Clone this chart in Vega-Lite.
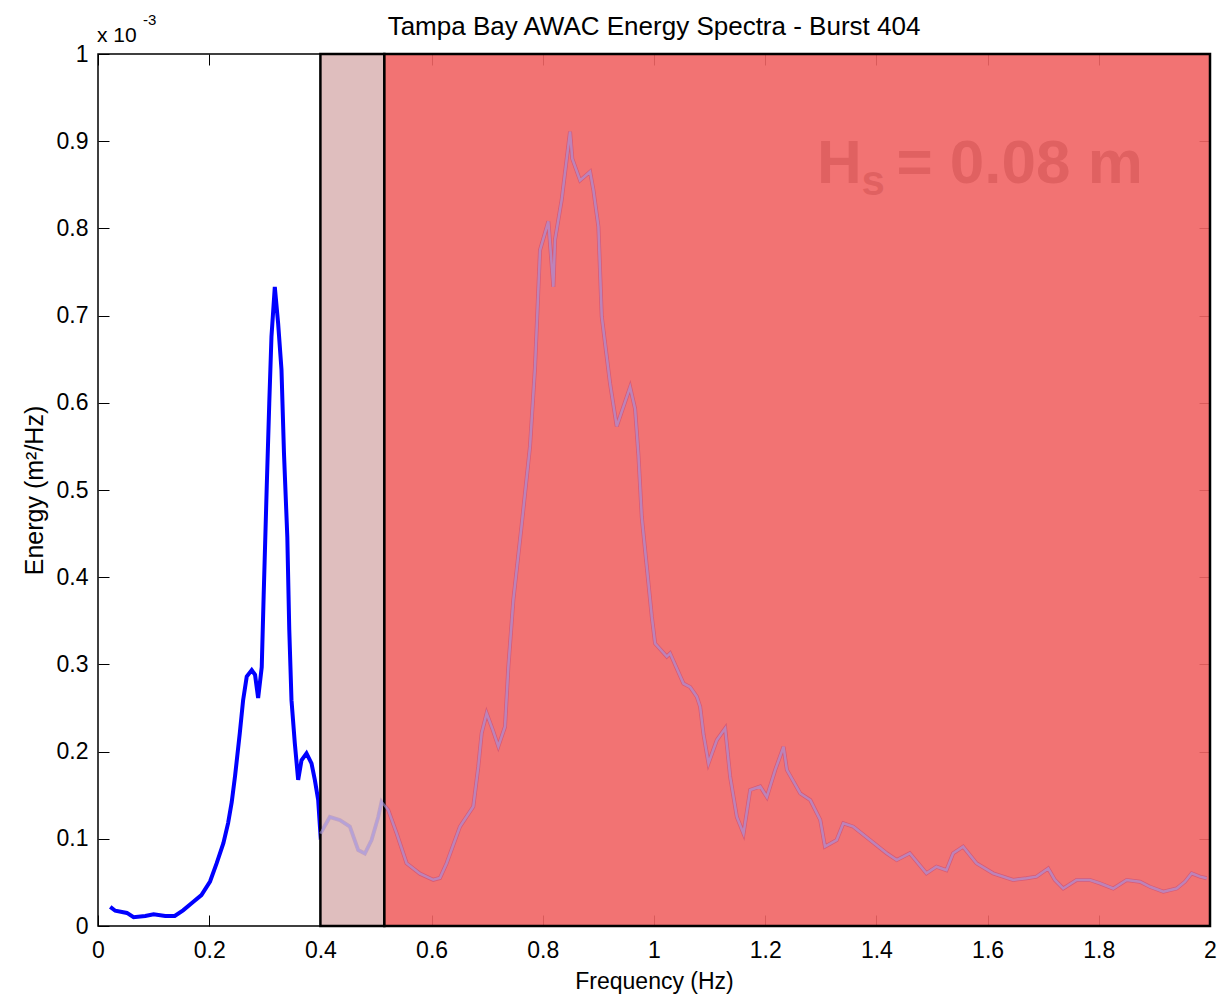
{
  "$schema": "https://vega.github.io/schema/vega-lite/v6.json",
  "width": 1112,
  "height": 872,
  "autosize": {"type": "none"},
  "padding": {"left": 98, "top": 54, "right": 9, "bottom": 70},
  "background": "white",
  "config": {
    "font": "Liberation Sans",
    "view": {"stroke": "black", "strokeWidth": 1.5},
    "axis": {"grid": false}
  },
  "title": {
    "text": "Tampa Bay AWAC Energy Spectra - Burst 404",
    "fontSize": 26,
    "fontWeight": "normal",
    "color": "black",
    "anchor": "middle",
    "frame": "group",
    "baseline": "bottom",
    "offset": -53
  },
  "datasets": {
    "spectrum": [
      {"freq": 0.022, "energy": 0.022},
      {"freq": 0.031, "energy": 0.0175},
      {"freq": 0.052, "energy": 0.015},
      {"freq": 0.064, "energy": 0.010},
      {"freq": 0.085, "energy": 0.0115},
      {"freq": 0.100, "energy": 0.0134},
      {"freq": 0.121, "energy": 0.0115},
      {"freq": 0.138, "energy": 0.0115},
      {"freq": 0.153, "energy": 0.018},
      {"freq": 0.171, "energy": 0.0275},
      {"freq": 0.186, "energy": 0.0355},
      {"freq": 0.2015, "energy": 0.051},
      {"freq": 0.2135, "energy": 0.072},
      {"freq": 0.2255, "energy": 0.095},
      {"freq": 0.234, "energy": 0.118},
      {"freq": 0.2405, "energy": 0.142},
      {"freq": 0.2465, "energy": 0.172},
      {"freq": 0.255, "energy": 0.221},
      {"freq": 0.261, "energy": 0.259},
      {"freq": 0.2675, "energy": 0.286},
      {"freq": 0.2765, "energy": 0.2935},
      {"freq": 0.2825, "energy": 0.288},
      {"freq": 0.288, "energy": 0.2615},
      {"freq": 0.2945, "energy": 0.297},
      {"freq": 0.298, "energy": 0.38},
      {"freq": 0.3035, "energy": 0.504},
      {"freq": 0.308, "energy": 0.599},
      {"freq": 0.312, "energy": 0.676},
      {"freq": 0.318, "energy": 0.733},
      {"freq": 0.324, "energy": 0.691},
      {"freq": 0.330, "energy": 0.638},
      {"freq": 0.3345, "energy": 0.542},
      {"freq": 0.3405, "energy": 0.446},
      {"freq": 0.344, "energy": 0.34},
      {"freq": 0.348, "energy": 0.259},
      {"freq": 0.354, "energy": 0.2095},
      {"freq": 0.360, "energy": 0.1675},
      {"freq": 0.366, "energy": 0.190},
      {"freq": 0.375, "energy": 0.198},
      {"freq": 0.384, "energy": 0.1865},
      {"freq": 0.390, "energy": 0.1675},
      {"freq": 0.396, "energy": 0.1445},
      {"freq": 0.400, "energy": 0.106},
      {"freq": 0.417, "energy": 0.125},
      {"freq": 0.435, "energy": 0.1215},
      {"freq": 0.453, "energy": 0.114},
      {"freq": 0.468, "energy": 0.087},
      {"freq": 0.480, "energy": 0.083},
      {"freq": 0.492, "energy": 0.0985},
      {"freq": 0.504, "energy": 0.125},
      {"freq": 0.510, "energy": 0.1425},
      {"freq": 0.522, "energy": 0.133},
      {"freq": 0.537, "energy": 0.1065},
      {"freq": 0.555, "energy": 0.072},
      {"freq": 0.579, "energy": 0.060},
      {"freq": 0.603, "energy": 0.053},
      {"freq": 0.615, "energy": 0.055},
      {"freq": 0.627, "energy": 0.072},
      {"freq": 0.651, "energy": 0.114},
      {"freq": 0.675, "energy": 0.137},
      {"freq": 0.684, "energy": 0.183},
      {"freq": 0.690, "energy": 0.221},
      {"freq": 0.699, "energy": 0.244},
      {"freq": 0.710, "energy": 0.225},
      {"freq": 0.720, "energy": 0.206},
      {"freq": 0.732, "energy": 0.2285},
      {"freq": 0.738, "energy": 0.297},
      {"freq": 0.747, "energy": 0.374},
      {"freq": 0.762, "energy": 0.46},
      {"freq": 0.777, "energy": 0.55},
      {"freq": 0.786, "energy": 0.641},
      {"freq": 0.795, "energy": 0.775},
      {"freq": 0.810, "energy": 0.808},
      {"freq": 0.819, "energy": 0.733},
      {"freq": 0.822, "energy": 0.787},
      {"freq": 0.834, "energy": 0.833},
      {"freq": 0.849, "energy": 0.911},
      {"freq": 0.853, "energy": 0.88},
      {"freq": 0.867, "energy": 0.855},
      {"freq": 0.885, "energy": 0.865},
      {"freq": 0.891, "energy": 0.844},
      {"freq": 0.900, "energy": 0.802},
      {"freq": 0.906, "energy": 0.699},
      {"freq": 0.921, "energy": 0.622},
      {"freq": 0.933, "energy": 0.573},
      {"freq": 0.957, "energy": 0.618},
      {"freq": 0.966, "energy": 0.593},
      {"freq": 0.972, "energy": 0.54},
      {"freq": 0.978, "energy": 0.469},
      {"freq": 0.987, "energy": 0.412},
      {"freq": 0.996, "energy": 0.355},
      {"freq": 1.002, "energy": 0.324},
      {"freq": 1.023, "energy": 0.309},
      {"freq": 1.029, "energy": 0.3127},
      {"freq": 1.053, "energy": 0.278},
      {"freq": 1.065, "energy": 0.274},
      {"freq": 1.077, "energy": 0.263},
      {"freq": 1.083, "energy": 0.2515},
      {"freq": 1.089, "energy": 0.22},
      {"freq": 1.098, "energy": 0.1866},
      {"freq": 1.113, "energy": 0.2133},
      {"freq": 1.128, "energy": 0.2267},
      {"freq": 1.137, "energy": 0.171},
      {"freq": 1.149, "energy": 0.125},
      {"freq": 1.161, "energy": 0.106},
      {"freq": 1.173, "energy": 0.156},
      {"freq": 1.191, "energy": 0.160},
      {"freq": 1.203, "energy": 0.148},
      {"freq": 1.218, "energy": 0.179},
      {"freq": 1.233, "energy": 0.2056},
      {"freq": 1.239, "energy": 0.179},
      {"freq": 1.263, "energy": 0.152},
      {"freq": 1.281, "energy": 0.1445},
      {"freq": 1.299, "energy": 0.1216},
      {"freq": 1.3075, "energy": 0.091},
      {"freq": 1.3285, "energy": 0.0986},
      {"freq": 1.3405, "energy": 0.1178},
      {"freq": 1.3585, "energy": 0.1139},
      {"freq": 1.3885, "energy": 0.0986},
      {"freq": 1.4185, "energy": 0.0834},
      {"freq": 1.4365, "energy": 0.0757},
      {"freq": 1.460, "energy": 0.0834},
      {"freq": 1.490, "energy": 0.0604},
      {"freq": 1.508, "energy": 0.068},
      {"freq": 1.526, "energy": 0.064},
      {"freq": 1.538, "energy": 0.0834},
      {"freq": 1.556, "energy": 0.091},
      {"freq": 1.580, "energy": 0.072},
      {"freq": 1.610, "energy": 0.0604},
      {"freq": 1.646, "energy": 0.0528},
      {"freq": 1.670, "energy": 0.0547},
      {"freq": 1.688, "energy": 0.0566},
      {"freq": 1.709, "energy": 0.066},
      {"freq": 1.721, "energy": 0.0528},
      {"freq": 1.736, "energy": 0.043},
      {"freq": 1.760, "energy": 0.0528},
      {"freq": 1.784, "energy": 0.0528},
      {"freq": 1.802, "energy": 0.049},
      {"freq": 1.826, "energy": 0.043},
      {"freq": 1.850, "energy": 0.0528},
      {"freq": 1.874, "energy": 0.0508},
      {"freq": 1.892, "energy": 0.045},
      {"freq": 1.916, "energy": 0.0394},
      {"freq": 1.940, "energy": 0.043},
      {"freq": 1.955, "energy": 0.0508},
      {"freq": 1.967, "energy": 0.0604},
      {"freq": 1.982, "energy": 0.0566},
      {"freq": 1.994, "energy": 0.0547}
    ],
    "bands": [
      {"start": 0.4, "end": 0.515, "band": "gray", "low": 0, "high": 1},
      {"start": 0.515, "end": 2.0, "band": "red", "low": 0, "high": 1}
    ]
  },
  "resolve": {"axis": {"x": "independent", "y": "independent"}},
  "layer": [
    {
      "data": {"name": "spectrum"},
      "mark": {"type": "line", "color": "#0000ff", "strokeWidth": 4, "clip": true},
      "encoding": {
        "x": {
          "field": "freq", "type": "quantitative",
          "scale": {"domain": [0, 2], "nice": false, "zero": false},
          "axis": {
            "orient": "bottom", "title": "Frequency (Hz)", "values": [0, 0.2, 0.4, 0.6, 0.8, 1, 1.2, 1.4, 1.6, 1.8, 2],
            "format": "~g",
            "labelFontSize": 23, "titleFontSize": 23, "titleFontWeight": "normal",
            "labelColor": "black", "titleColor": "black", "domain": false,
            "ticks": true, "tickSize": -11, "tickColor": "black", "tickWidth": 1,
            "labelPadding": 24, "titlePadding": 8, "labelFlush": false
          }
        },
        "y": {
          "field": "energy", "type": "quantitative",
          "scale": {"domain": [0, 1], "nice": false, "zero": false},
          "axis": {
            "orient": "left", "title": "Energy (m²/Hz)", "values": [0, 0.1, 0.2, 0.3, 0.4, 0.5, 0.6, 0.7, 0.8, 0.9, 1],
            "format": "~g",
            "labelFontSize": 23, "titleFontSize": 25, "titleFontWeight": "normal",
            "labelColor": "black", "titleColor": "black", "domain": false,
            "ticks": true, "tickSize": -11, "tickColor": "black", "tickWidth": 1,
            "labelPadding": 21, "titlePadding": 9, "labelFlush": false
          }
        }
      }
    },
    {
      "data": {"values": [{"freq": 1.293, "energy": 0.852, "label": "H"}, {"freq": 1.436, "energy": 0.852, "label": "= 0.08 m"}]},
      "mark": {"type": "text", "align": "left", "baseline": "alphabetic", "fontSize": 62, "fontWeight": "bold", "color": "#4a4a4a"},
      "encoding": {
        "x": {"field": "freq", "type": "quantitative", "axis": null},
        "y": {"field": "energy", "type": "quantitative", "axis": null},
        "text": {"field": "label"}
      }
    },
    {
      "data": {"values": [{"freq": 1.373, "energy": 0.838, "label": "s"}]},
      "mark": {"type": "text", "align": "left", "baseline": "alphabetic", "fontSize": 42, "fontWeight": "bold", "color": "#4a4a4a"},
      "encoding": {
        "x": {"field": "freq", "type": "quantitative", "axis": null},
        "y": {"field": "energy", "type": "quantitative", "axis": null},
        "text": {"field": "label"}
      }
    },
    {
      "data": {"name": "bands"},
      "mark": {"type": "rect", "fillOpacity": 0.9, "stroke": "black", "strokeWidth": 2.5, "strokeOpacity": 1},
      "encoding": {
        "x": {
          "field": "start", "type": "quantitative",
          "axis": {"orient": "top", "labels": false, "title": null, "domain": false, "ticks": true, "tickSize": -11, "tickColor": "black", "values": [0, 0.2, 0.4, 0.6, 0.8, 1, 1.2, 1.4, 1.6, 1.8, 2]}
        },
        "x2": {"field": "end"},
        "y": {
          "field": "low", "type": "quantitative",
          "axis": {"orient": "right", "labels": false, "title": null, "domain": false, "ticks": true, "tickSize": -11, "tickColor": "black", "values": [0, 0.1, 0.2, 0.3, 0.4, 0.5, 0.6, 0.7, 0.8, 0.9, 1]}
        },
        "y2": {"field": "high"},
        "fill": {
          "field": "band", "type": "nominal",
          "scale": {"domain": ["gray", "red"], "range": ["#dbb7b7", "#f16464"]},
          "legend": null
        }
      }
    },
    {
      "data": {"name": "spectrum"},
      "transform": [{"filter": "datum.freq >= 0.4"}],
      "mark": {"type": "line", "color": "#aa9ee8", "strokeWidth": 2.5, "opacity": 0.6, "clip": true},
      "encoding": {
        "x": {"field": "freq", "type": "quantitative", "axis": null},
        "y": {"field": "energy", "type": "quantitative", "axis": null}
      }
    },
    {
      "data": {"values": [{"freq": 0, "energy": 1, "label": "x 10"}]},
      "mark": {"type": "text", "align": "left", "baseline": "alphabetic", "fontSize": 21, "color": "black", "dy": -12, "dx": -1},
      "encoding": {
        "x": {"field": "freq", "type": "quantitative", "axis": null},
        "y": {"field": "energy", "type": "quantitative", "axis": null},
        "text": {"field": "label"}
      }
    },
    {
      "data": {"values": [{"freq": 0, "energy": 1, "label": "-3"}]},
      "mark": {"type": "text", "align": "left", "baseline": "alphabetic", "fontSize": 15, "color": "black", "dy": -29, "dx": 45},
      "encoding": {
        "x": {"field": "freq", "type": "quantitative", "axis": null},
        "y": {"field": "energy", "type": "quantitative", "axis": null},
        "text": {"field": "label"}
      }
    }
  ]
}
